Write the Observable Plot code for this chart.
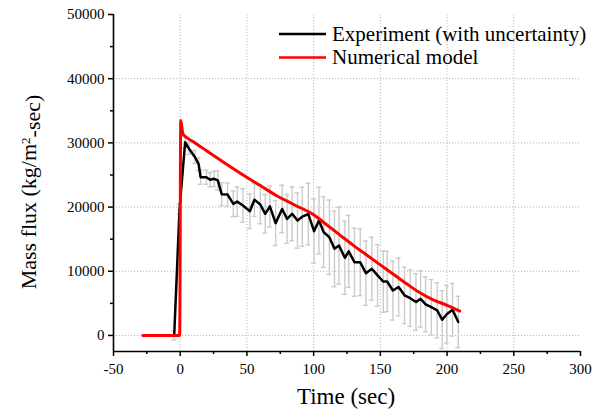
<!DOCTYPE html>
<html><head><meta charset="utf-8">
<script src="https://cdn.jsdelivr.net/npm/d3@7"></script>
<script src="https://cdn.jsdelivr.net/npm/@observablehq/plot@0.6"></script>
<style>
body{margin:0;background:#fff;}
#chart{width:604px;height:412px;}
</style></head><body><div id="chart"></div>
<script>
const expTime  = [-4.5,-0.5,3.7,6.6,11,13.8,15.3,19.6,22.5,25.4,28.2,31.1,35.5,39.8,42.7,47,52.2,55.6,60,63.7,67.2,71.5,76.4,80.1,83.9,87.9,91.5,96,100.3,104,107.5,111.8,115.6,119,123.4,126.3,130.6,134.9,139.2,143.6,147.9,152.2,155.1,159.4,163.7,168.1,172.4,176.7,180.2,183.9,188.2,192.6,196.3,199.8,204.1,208.4];
const expValue = [0,19700,30100,29100,27800,26700,24650,24650,24250,24400,24150,22000,21950,20500,20850,20250,19350,21150,20400,18950,20100,17500,19700,18150,18950,17900,18500,18900,16250,17900,16100,15300,13500,14000,12100,13100,11400,11400,9700,10400,9350,8400,8400,7000,7550,6250,5800,5200,5700,4850,4400,3900,2450,3300,4000,2100];
const expErr   = [700,800,900,900,1000,1000,1100,1100,1100,1200,1500,1800,1800,2000,2300,2600,2700,2600,3000,3000,3200,3500,3700,3800,4200,4300,4600,4800,5000,5200,5500,5800,5900,6000,5700,5600,5300,5200,5000,4900,4800,4800,4700,4600,4500,4400,4400,4400,4400,4300,4300,4300,4500,4500,4100,4000];
const modelTime  = [-28,-0.4,0.4,2,5,10,16,22.5,35,47.5,60,72,85,100,110,120,130,140,150,160,170,180,190,200,209.5];
const modelValue = [0,0,33500,31450,30800,30150,29300,28400,26650,24950,23350,21800,20400,18800,17200,15600,14000,12500,11000,9500,8000,6600,5500,4700,3800];
const xTicks = [-50,0,50,100,150,200,250,300];
const xMinorTicks = [-25,25,75,125,175,225,275];
const yTicks = [0,10000,20000,30000,40000,50000];
const yMinorTicks = [5000,15000,25000,35000,45000];
const xGrid = [0,50,100,150,200,250];
const yGrid = [0,10000,20000,30000,40000];
const seriesNames = ["Experiment (with uncertainty)", "Numerical model"];
const seriesColors = ["#000000", "#ff0000"];
const xTitle = "Time (sec)";

const exp = expTime.map((t,i)=>({t, v: expValue[i], e: expErr[i]}));
const model = modelTime.map((t,i)=>({t, v: modelValue[i]}));
const errColor = "#cbcbcb";

const svg = Plot.plot({
  width:604, height:412, marginLeft:113, marginRight:24, marginTop:14, marginBottom:61,
  style:{fontFamily:"'Liberation Serif','Times New Roman',serif", fontSize:"15px", color:"#000", background:"#fff", overflow:"visible"},
  x:{domain:[-50,300]},
  y:{domain:[-2500,50000]},
  marks:[
    Plot.ruleX(xGrid,{stroke:"#b8b8b8", strokeDasharray:"1.2,1.8", strokeWidth:1}),
    Plot.ruleY(yGrid,{stroke:"#b8b8b8", strokeDasharray:"1.2,1.8", strokeWidth:1}),
    Plot.ruleX(exp,{x:"t", y1:d=>d.v-d.e, y2:d=>d.v+d.e, stroke:errColor, strokeWidth:1.4}),
    Plot.ruleY(exp,{x1:d=>d.t-1.8, x2:d=>d.t+1.8, y:d=>d.v+d.e, stroke:errColor, strokeWidth:1.4}),
    Plot.ruleY(exp,{x1:d=>d.t-1.8, x2:d=>d.t+1.8, y:d=>d.v-d.e, stroke:errColor, strokeWidth:1.4}),
    Plot.line(exp,{x:"t", y:"v", stroke:seriesColors[0], strokeWidth:2.5}),
    Plot.line(model,{x:"t", y:"v", stroke:seriesColors[1], strokeWidth:3, curve:"monotone-x"}),
    Plot.axisX(xTicks,{tickSize:5, tickPadding:7, tickFormat:d=>String(d), label:null, strokeWidth:1.5}),
    Plot.axisX(xMinorTicks,{tickSize:3, tickFormat:()=>"", label:null, strokeWidth:1.5}),
    Plot.axisY(yTicks,{tickSize:5, tickPadding:4, tickFormat:d=>String(d), label:null, strokeWidth:1.5}),
    Plot.axisY(yMinorTicks,{tickSize:3, tickFormat:()=>"", label:null, strokeWidth:1.5}),
    Plot.ruleX([-50],{stroke:"#000", strokeWidth:1.6}),
    Plot.ruleY([-2500],{stroke:"#000", strokeWidth:1.6})
  ]
});
document.getElementById("chart").appendChild(svg);

const s = d3.select(svg);
const font = "'Liberation Serif','Times New Roman',serif";
// x title
s.append("text").attr("x",346).attr("y",404).attr("text-anchor","middle")
  .attr("font-family",font).attr("font-size",23).attr("font-weight","normal").attr("fill","#000").text(xTitle);
// y title
const yt = s.append("text").attr("transform","translate(36,192) rotate(-90)")
  .attr("text-anchor","middle").attr("font-family",font).attr("font-size",22).attr("fill","#000");
yt.append("tspan").text("Mass flux (kg/m");
yt.append("tspan").attr("dy","-0.45em").attr("font-size",13).text("2");
yt.append("tspan").attr("dy","0.45em").text("-sec)");
// legend
const legY = [34,57.5];
seriesNames.forEach((name,i)=>{
  s.append("line").attr("x1",279).attr("x2",326).attr("y1",legY[i]).attr("y2",legY[i])
    .attr("stroke",seriesColors[i]).attr("stroke-width",2.5);
  s.append("text").attr("x",332).attr("y",legY[i]+6.5).attr("text-anchor","start").attr("font-family",font)
    .attr("font-size",21).attr("fill","#000").text(name);
});
</script></body></html>
